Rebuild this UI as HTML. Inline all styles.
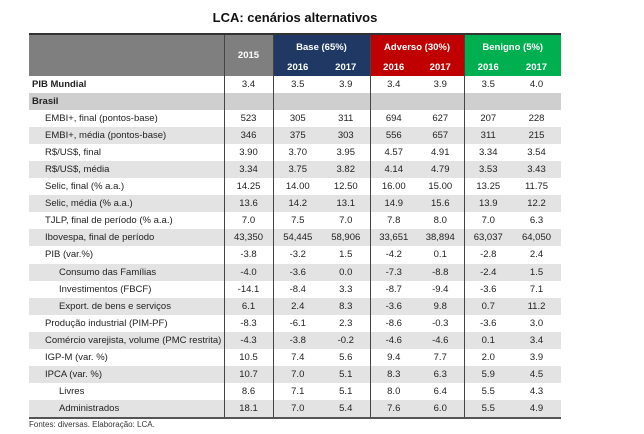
<!DOCTYPE html>
<html><head><style>
body{margin:0;background:#fff;width:644px;height:434px;position:relative;font-family:"Liberation Sans",Arial,sans-serif;overflow:hidden}
.t{position:absolute;top:10px;left:29px;width:532px;text-align:center;font-weight:bold;font-size:13px;color:#111}
table{position:absolute;left:29px;top:33px;border-collapse:collapse;font-size:9.5px;color:#222;table-layout:fixed}
td{padding:0;height:17.05px;text-align:center;white-space:nowrap}
td.l{text-align:left;padding-left:3px}
td.i{text-align:left;padding-left:16px}
td.i2{text-align:left;padding-left:30px}
tr.g td{background:#e3e3e3}
tr.b td{background:#cfcfcf}
.v{border-left:1.5px solid #444}
.hd td{color:#fff;font-weight:bold;height:24px}
.hd2 td{color:#fff;font-weight:bold;height:17px}
.gr{background:#7f7f7f}.bl{background:#1f3864}.rd{background:#c00000}.gn{background:#00b050}
.f{position:absolute;left:29px;top:420px;font-size:8px;color:#333}
</style></head><body>
<div class="t">LCA: cenários alternativos</div>
<table>
<colgroup><col style="width:195px"><col style="width:49px"><col style="width:49px"><col style="width:48px"><col style="width:47px"><col style="width:47px"><col style="width:48px"><col style="width:49px"></colgroup>
<tr class="hd" style="border-top:2px solid #333"><td class="gr" rowspan="2"></td><td class="gr v" rowspan="2">2015</td><td class="bl v" colspan="2">Base (65%)</td><td class="rd v" colspan="2">Adverso (30%)</td><td class="gn v" colspan="2">Benigno (5%)</td></tr>
<tr class="hd2"><td class="bl v">2016</td><td class="bl">2017</td><td class="rd v">2016</td><td class="rd">2017</td><td class="gn v">2016</td><td class="gn">2017</td></tr>
<tr><td class="l"><b>PIB Mundial</b></td><td class="v">3.4</td><td class="v">3.5</td><td>3.9</td><td class="v">3.4</td><td>3.9</td><td class="v">3.5</td><td>4.0</td></tr>
<tr class="b"><td class="l"><b>Brasil</b></td><td class="v"></td><td class="v"></td><td></td><td class="v"></td><td></td><td class="v"></td><td></td></tr>
<tr><td class="i">EMBI+, final (pontos-base)</td><td class="v">523</td><td class="v">305</td><td>311</td><td class="v">694</td><td>627</td><td class="v">207</td><td>228</td></tr>
<tr class="g"><td class="i">EMBI+, média (pontos-base)</td><td class="v">346</td><td class="v">375</td><td>303</td><td class="v">556</td><td>657</td><td class="v">311</td><td>215</td></tr>
<tr><td class="i">R$/US$, final</td><td class="v">3.90</td><td class="v">3.70</td><td>3.95</td><td class="v">4.57</td><td>4.91</td><td class="v">3.34</td><td>3.54</td></tr>
<tr class="g"><td class="i">R$/US$, média</td><td class="v">3.34</td><td class="v">3.75</td><td>3.82</td><td class="v">4.14</td><td>4.79</td><td class="v">3.53</td><td>3.43</td></tr>
<tr><td class="i">Selic, final (% a.a.)</td><td class="v">14.25</td><td class="v">14.00</td><td>12.50</td><td class="v">16.00</td><td>15.00</td><td class="v">13.25</td><td>11.75</td></tr>
<tr class="g"><td class="i">Selic, média (% a.a.)</td><td class="v">13.6</td><td class="v">14.2</td><td>13.1</td><td class="v">14.9</td><td>15.6</td><td class="v">13.9</td><td>12.2</td></tr>
<tr><td class="i">TJLP, final de período (% a.a.)</td><td class="v">7.0</td><td class="v">7.5</td><td>7.0</td><td class="v">7.8</td><td>8.0</td><td class="v">7.0</td><td>6.3</td></tr>
<tr class="g"><td class="i">Ibovespa, final de período</td><td class="v">43,350</td><td class="v">54,445</td><td>58,906</td><td class="v">33,651</td><td>38,894</td><td class="v">63,037</td><td>64,050</td></tr>
<tr><td class="i">PIB (var.%)</td><td class="v">-3.8</td><td class="v">-3.2</td><td>1.5</td><td class="v">-4.2</td><td>0.1</td><td class="v">-2.8</td><td>2.4</td></tr>
<tr class="g"><td class="i2">Consumo das Famílias</td><td class="v">-4.0</td><td class="v">-3.6</td><td>0.0</td><td class="v">-7.3</td><td>-8.8</td><td class="v">-2.4</td><td>1.5</td></tr>
<tr><td class="i2">Investimentos (FBCF)</td><td class="v">-14.1</td><td class="v">-8.4</td><td>3.3</td><td class="v">-8.7</td><td>-9.4</td><td class="v">-3.6</td><td>7.1</td></tr>
<tr class="g"><td class="i2">Export. de bens e serviços</td><td class="v">6.1</td><td class="v">2.4</td><td>8.3</td><td class="v">-3.6</td><td>9.8</td><td class="v">0.7</td><td>11.2</td></tr>
<tr><td class="i">Produção industrial (PIM-PF)</td><td class="v">-8.3</td><td class="v">-6.1</td><td>2.3</td><td class="v">-8.6</td><td>-0.3</td><td class="v">-3.6</td><td>3.0</td></tr>
<tr class="g"><td class="i">Comércio varejista, volume (PMC restrita)</td><td class="v">-4.3</td><td class="v">-3.8</td><td>-0.2</td><td class="v">-4.6</td><td>-4.6</td><td class="v">0.1</td><td>3.4</td></tr>
<tr><td class="i">IGP-M (var. %)</td><td class="v">10.5</td><td class="v">7.4</td><td>5.6</td><td class="v">9.4</td><td>7.7</td><td class="v">2.0</td><td>3.9</td></tr>
<tr class="g"><td class="i">IPCA (var. %)</td><td class="v">10.7</td><td class="v">7.0</td><td>5.1</td><td class="v">8.3</td><td>6.3</td><td class="v">5.9</td><td>4.5</td></tr>
<tr><td class="i2">Livres</td><td class="v">8.6</td><td class="v">7.1</td><td>5.1</td><td class="v">8.0</td><td>6.4</td><td class="v">5.5</td><td>4.3</td></tr>
<tr class="g" style="border-bottom:2.5px solid #555"><td class="i2">Administrados</td><td class="v">18.1</td><td class="v">7.0</td><td>5.4</td><td class="v">7.6</td><td>6.0</td><td class="v">5.5</td><td>4.9</td></tr>
</table>
<div class="f">Fontes: diversas. Elaboração: LCA.</div>
</body></html>
